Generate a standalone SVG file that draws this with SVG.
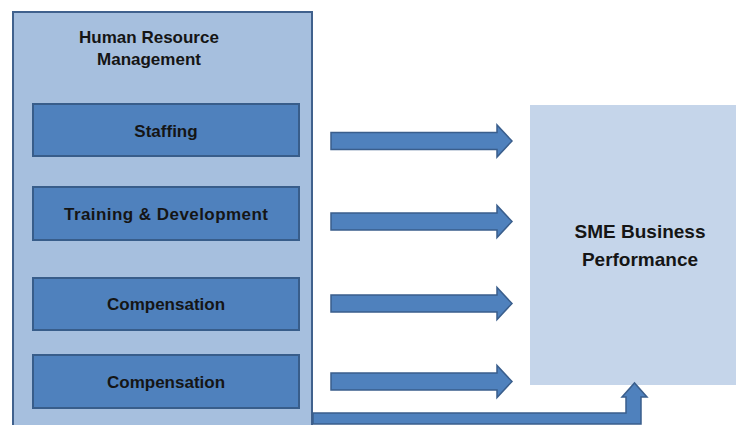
<svg xmlns="http://www.w3.org/2000/svg" width="736" height="425" viewBox="0 0 736 425">
<style>
.t{font-family:"Liberation Sans",Arial,sans-serif;font-weight:bold;fill:#151515;text-anchor:middle}
.sub{fill:#4f81bd;stroke:#385d8a;stroke-width:2}
.arr{fill:#4f81bd;stroke:#3a5e8c;stroke-width:1.5}
</style>
<rect width="736" height="425" fill="#ffffff"/>
<g id="hrm">
<rect x="13" y="12" width="299" height="420" fill="#a6bfde" stroke="#40618d" stroke-width="2"/>
<text class="t" x="149" y="43" font-size="17">Human Resource</text>
<text class="t" x="149" y="65" font-size="17">Management</text>
</g>
<g id="staffing">
<rect class="sub" x="33" y="104" width="266" height="52"/>
<text class="t" x="166" y="137" font-size="17">Staffing</text>
</g>
<g id="training">
<rect class="sub" x="33" y="187" width="266" height="53"/>
<text class="t" x="166" y="219.5" font-size="17" textLength="204">Training &amp; Development</text>
</g>
<g id="compensation1">
<rect class="sub" x="33" y="278" width="266" height="52"/>
<text class="t" x="166" y="309.5" font-size="17">Compensation</text>
</g>
<g id="compensation2">
<rect class="sub" x="33" y="355" width="266" height="53"/>
<text class="t" x="166" y="387.5" font-size="17">Compensation</text>
</g>
<g id="sme">
<rect x="530" y="105" width="210" height="280" fill="#c5d5ea"/>
<text class="t" x="640" y="238" font-size="19">SME Business</text>
<text class="t" x="640" y="266" font-size="19">Performance</text>
</g>
<g id="connectors">
<path class="arr" d="M331,132.5 H497 V125 L512,141 L497,157 V149.5 H331 Z"/>
<path class="arr" d="M331,213 H497 V205.5 L512,221.5 L497,237.5 V230 H331 Z"/>
<path class="arr" d="M331,295 H497 V287.5 L512,303.5 L497,319.5 V312 H331 Z"/>
<path class="arr" d="M331,373 H497 V365.5 L512,381.5 L497,397.5 V390 H331 Z"/>
<path class="arr" d="M313,413 H626 V397 H622 L634.5,383 L647,397 H641 V424 H313 Z"/>
</g>
</svg>
